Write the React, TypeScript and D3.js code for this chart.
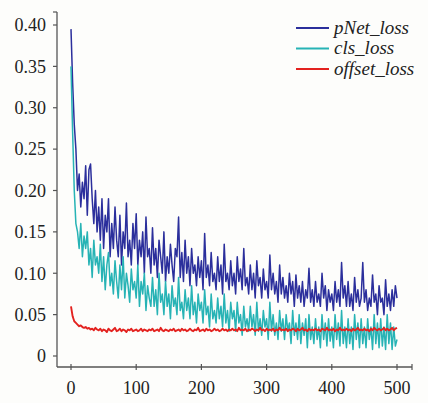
import React from "react";
import * as d3 from "d3";

const step = 2.5;
const xTicks = [0, 100, 200, 300, 400, 500];
const yTicks = [0, 0.05, 0.1, 0.15, 0.2, 0.25, 0.3, 0.35, 0.4];
const yTickLabels = ["0", "0.05", "0.10", "0.15", "0.20", "0.25", "0.30", "0.35", "0.40"];
const seriesNames = ["pNet_loss", "cls_loss", "offset_loss"];
const seriesColors = ["#2b2f9c", "#27b3b5", "#e3221f"];

const pNetLoss = [
  0.395, 0.33, 0.28, 0.25, 0.20, 0.22, 0.18, 0.21, 0.19, 0.23,
  0.17, 0.225, 0.232, 0.19, 0.16, 0.20, 0.15, 0.18, 0.14, 0.19,
  0.13, 0.17, 0.15, 0.19, 0.12, 0.16, 0.13, 0.18, 0.14, 0.12,
  0.17, 0.11, 0.15, 0.13, 0.185, 0.12, 0.14, 0.11, 0.16, 0.13,
  0.172, 0.11, 0.14, 0.12, 0.15, 0.10, 0.168, 0.12, 0.13, 0.10,
  0.155, 0.11, 0.13, 0.095, 0.14, 0.12, 0.10, 0.15, 0.09, 0.12,
  0.10, 0.135, 0.11, 0.09, 0.13, 0.12, 0.168, 0.095, 0.125, 0.09,
  0.14, 0.10, 0.12, 0.085, 0.13, 0.10, 0.11, 0.085, 0.12, 0.095,
  0.115, 0.08, 0.148, 0.095, 0.11, 0.085, 0.125, 0.09, 0.10, 0.08,
  0.12, 0.09, 0.11, 0.075, 0.135, 0.09, 0.10, 0.08, 0.115, 0.085,
  0.10, 0.075, 0.12, 0.09, 0.105, 0.08, 0.13, 0.085, 0.095, 0.075,
  0.11, 0.08, 0.10, 0.07, 0.115, 0.085, 0.095, 0.07, 0.105, 0.08,
  0.09, 0.07, 0.122, 0.08, 0.10, 0.075, 0.09, 0.065, 0.11, 0.075,
  0.095, 0.07, 0.085, 0.065, 0.10, 0.075, 0.09, 0.06, 0.098, 0.07,
  0.085, 0.065, 0.09, 0.06, 0.08, 0.07, 0.106, 0.065, 0.08, 0.06,
  0.09, 0.065, 0.075, 0.06, 0.10, 0.07, 0.085, 0.055, 0.08, 0.065,
  0.075, 0.055, 0.09, 0.065, 0.08, 0.06, 0.113, 0.07, 0.085, 0.06,
  0.09, 0.06, 0.075, 0.055, 0.095, 0.065, 0.08, 0.06, 0.07, 0.113,
  0.065, 0.08, 0.055, 0.07, 0.06, 0.098, 0.065, 0.075, 0.05, 0.085,
  0.065, 0.07, 0.05, 0.092, 0.06, 0.075, 0.055, 0.08, 0.06, 0.085,
  0.07,
];

const clsLoss = [
  0.35, 0.27, 0.20, 0.16, 0.15, 0.13, 0.16, 0.12, 0.145, 0.13,
  0.15, 0.11, 0.13, 0.095, 0.14, 0.11, 0.12, 0.10, 0.135, 0.09,
  0.12, 0.08, 0.11, 0.125, 0.085, 0.10, 0.075, 0.115, 0.09, 0.07,
  0.11, 0.08, 0.12, 0.07, 0.10, 0.085, 0.065, 0.105, 0.08, 0.09,
  0.07, 0.11, 0.06, 0.09, 0.075, 0.10, 0.055, 0.085, 0.07, 0.06,
  0.095, 0.06, 0.08, 0.05, 0.10, 0.065, 0.075, 0.05, 0.09, 0.06,
  0.075, 0.045, 0.085, 0.06, 0.07, 0.05, 0.095, 0.055, 0.065, 0.045,
  0.08, 0.055, 0.07, 0.045, 0.085, 0.05, 0.065, 0.04, 0.075, 0.055,
  0.065, 0.04, 0.08, 0.05, 0.06, 0.035, 0.075, 0.045, 0.055, 0.04,
  0.07, 0.045, 0.06, 0.035, 0.075, 0.04, 0.055, 0.03, 0.065, 0.045,
  0.055, 0.03, 0.065, 0.04, 0.05, 0.025, 0.06, 0.035, 0.045, 0.03,
  0.06, 0.035, 0.05, 0.025, 0.065, 0.03, 0.045, 0.025, 0.055, 0.035,
  0.045, 0.02, 0.065, 0.03, 0.05, 0.025, 0.04, 0.02, 0.055, 0.03,
  0.045, 0.02, 0.05, 0.03, 0.04, 0.015, 0.055, 0.025, 0.04, 0.02,
  0.05, 0.015, 0.04, 0.025, 0.045, 0.01, 0.05, 0.02, 0.035, 0.015,
  0.045, 0.02, 0.035, 0.01, 0.05, 0.02, 0.04, 0.012, 0.045, 0.018,
  0.035, 0.01, 0.05, 0.02, 0.04, 0.012, 0.055, 0.015, 0.035, 0.01,
  0.045, 0.015, 0.035, 0.008, 0.05, 0.02, 0.04, 0.01, 0.045, 0.015,
  0.035, 0.01, 0.045, 0.02, 0.035, 0.008, 0.05, 0.015, 0.04, 0.01,
  0.045, 0.012, 0.035, 0.008, 0.05, 0.015, 0.04, 0.008, 0.035, 0.012,
  0.02,
];

const offsetLoss = [
  0.060, 0.048, 0.042, 0.040, 0.038, 0.036, 0.037, 0.035, 0.034, 0.035,
  0.033, 0.034, 0.032, 0.033, 0.031, 0.034, 0.032, 0.031, 0.033, 0.030,
  0.032, 0.031, 0.029, 0.033, 0.031, 0.030, 0.032, 0.034, 0.030, 0.031,
  0.033, 0.030, 0.032, 0.031, 0.029, 0.032, 0.031, 0.033, 0.030, 0.031,
  0.032, 0.030, 0.031, 0.033, 0.030, 0.032, 0.031, 0.030, 0.032, 0.031,
  0.033, 0.030, 0.031, 0.032, 0.030, 0.034, 0.031, 0.030, 0.032, 0.031,
  0.030, 0.032, 0.031, 0.033, 0.030, 0.031, 0.032, 0.030, 0.033, 0.031,
  0.032, 0.030, 0.031, 0.033, 0.031, 0.030, 0.032, 0.031, 0.034, 0.030,
  0.031, 0.032, 0.030, 0.033, 0.031, 0.032, 0.030, 0.031, 0.033, 0.031,
  0.032, 0.030, 0.031, 0.033, 0.031, 0.032, 0.030, 0.032, 0.031, 0.033,
  0.031, 0.032, 0.030, 0.034, 0.031, 0.032, 0.031, 0.033, 0.030, 0.032,
  0.031, 0.033, 0.032, 0.030, 0.032, 0.031, 0.034, 0.031, 0.032, 0.030,
  0.033, 0.031, 0.032, 0.031, 0.033, 0.030, 0.032, 0.031, 0.034, 0.031,
  0.032, 0.031, 0.033, 0.030, 0.032, 0.031, 0.033, 0.032, 0.030, 0.033,
  0.031, 0.032, 0.034, 0.031, 0.032, 0.030, 0.033, 0.031, 0.032, 0.031,
  0.033, 0.031, 0.032, 0.030, 0.033, 0.032, 0.031, 0.034, 0.031, 0.032,
  0.031, 0.033, 0.030, 0.032, 0.031, 0.034, 0.031, 0.032, 0.031, 0.033,
  0.031, 0.032, 0.030, 0.033, 0.031, 0.032, 0.034, 0.031, 0.032, 0.031,
  0.033, 0.031, 0.032, 0.030, 0.033, 0.031, 0.034, 0.032, 0.031, 0.033,
  0.031, 0.032, 0.034, 0.031, 0.033, 0.031, 0.032, 0.034, 0.031, 0.033,
  0.034,
];

const allSeries = [pNetLoss, clsLoss, offsetLoss];

export default function App() {
  const W = 428, H = 403;
  const x = d3.scaleLinear().domain([0, 500]).range([71, 397]);
  const y = d3.scaleLinear().domain([0, 0.4]).range([356, 25]);
  const axisLeft = 57, axisBottom = 367, axisTop = 12, axisRight = 412;
  const line = d3
    .line<number>()
    .x((_, i) => x(i * step))
    .y((d) => y(d));
  const font = '"Liberation Serif"';
  const axisColor = "#555";
  const textStyle: React.CSSProperties = { fontFamily: font, fontSize: 18 };

  return (
    <svg
      width={W}
      height={H}
      style={{ position: "absolute", left: 0, top: 0, background: "#fff" }}
    >
      <rect x={0} y={0} width={W} height={H} fill="#fdfdfb" />
      {allSeries.map((s, k) => (
        <path
          key={k}
          d={line(s) || ""}
          fill="none"
          stroke={seriesColors[k]}
          strokeWidth={k === 2 ? 1.9 : 1.5}
          strokeLinejoin="round"
        />
      ))}
      <line x1={axisLeft} y1={axisTop} x2={axisLeft} y2={axisBottom} stroke={axisColor} strokeWidth={1.3} />
      <line x1={axisLeft} y1={axisBottom} x2={axisRight} y2={axisBottom} stroke={axisColor} strokeWidth={1.3} />
      <line x1={axisLeft - 4} y1={axisTop} x2={axisLeft} y2={axisTop} stroke={axisColor} strokeWidth={1.2} />
      <line x1={axisRight} y1={axisBottom - 3} x2={axisRight} y2={axisBottom + 3} stroke={axisColor} strokeWidth={1.2} />
      {yTicks.map((t, i) => (
        <g key={"y" + i}>
          <line x1={axisLeft - 4} y1={y(t)} x2={axisLeft} y2={y(t)} stroke={axisColor} strokeWidth={1.2} />
          <text x={46} y={y(t)} dy="0.35em" textAnchor="end" fontFamily="Liberation Serif" style={textStyle} fill="#222">
            {yTickLabels[i]}
          </text>
        </g>
      ))}
      {xTicks.map((t, i) => (
        <g key={"x" + i}>
          <line x1={x(t)} y1={axisBottom - 3} x2={x(t)} y2={axisBottom + 3} stroke={axisColor} strokeWidth={1.2} />
          <text x={x(t)} y={394} textAnchor="middle" fontFamily="Liberation Serif" style={textStyle} fill="#222">
            {t}
          </text>
        </g>
      ))}
      {seriesNames.map((n, i) => (
        <g key={"l" + i}>
          <line x1={296} y1={28 + i * 20.5} x2={329} y2={28 + i * 20.5} stroke={seriesColors[i]} strokeWidth={2} />
          <text x={334} y={28 + i * 20.5} dy="0.3em" fontFamily="Liberation Serif" style={{ ...textStyle, fontSize: 19, fontStyle: "italic" }} fill="#222">
            {n}
          </text>
        </g>
      ))}
    </svg>
  );
}
